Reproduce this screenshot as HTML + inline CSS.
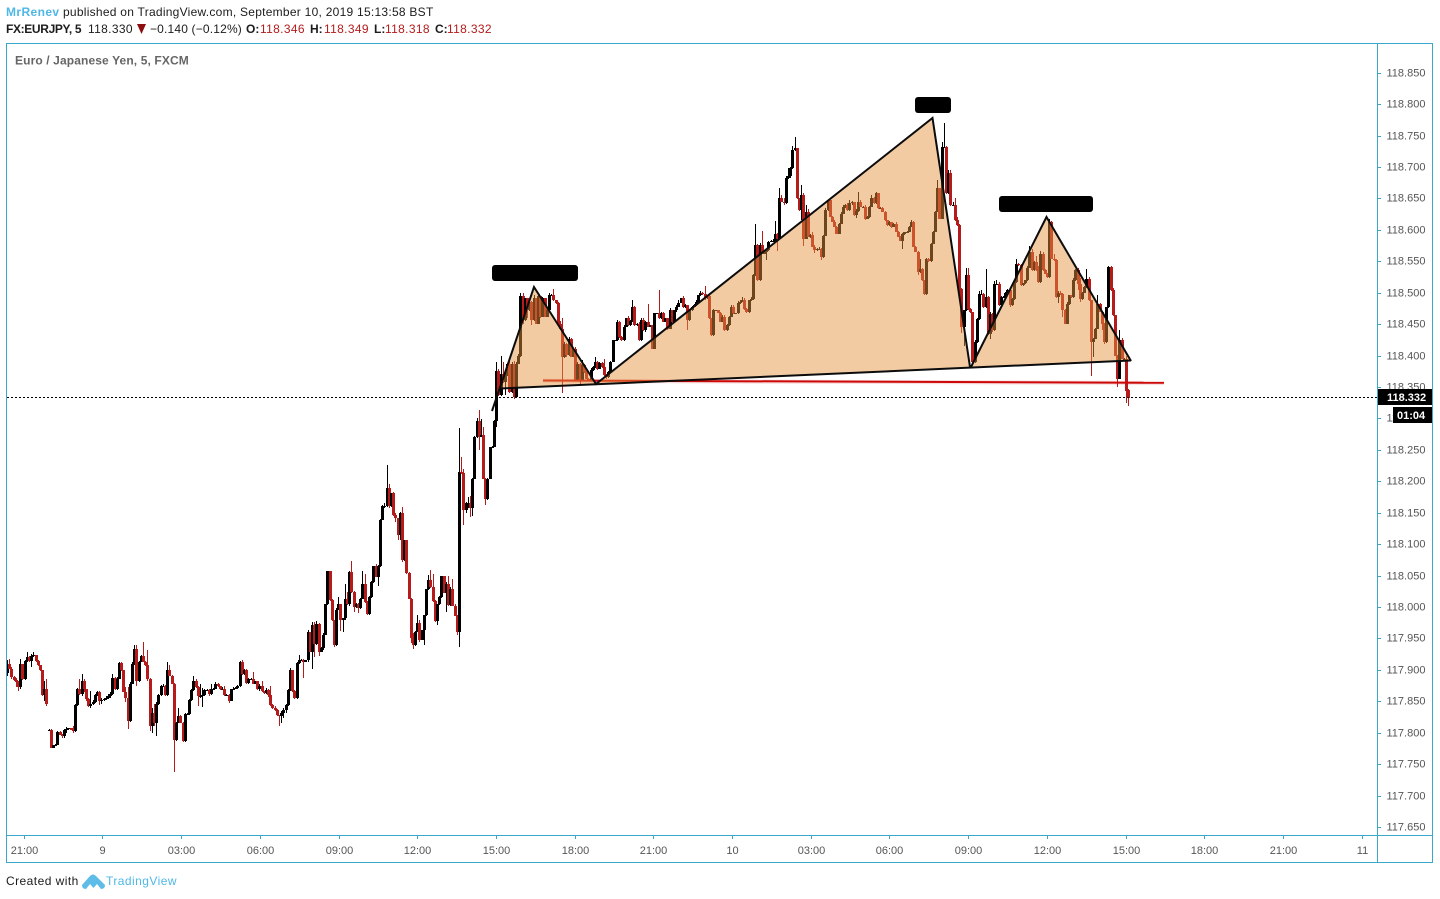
<!DOCTYPE html>
<html lang="en">
<head>
<meta charset="utf-8">
<title>EURJPY 5 chart</title>
<style>
html,body{margin:0;padding:0;background:#fff;width:1440px;height:899px;overflow:hidden;}
body{position:relative;font-family:"Liberation Sans",sans-serif;}
.t{position:absolute;white-space:nowrap;font-size:12px;line-height:14px;color:#1c1c1c;}
.b{font-weight:bold;}
.r{color:#b41c1c;letter-spacing:.35px;}
svg{position:absolute;left:0;top:0;}
</style>
</head>
<body>
<span class="t b" style="left:6px;top:5px;color:#4fb8e6;letter-spacing:.4px">MrRenev</span>
<span class="t" style="left:63px;top:5px;letter-spacing:.26px">published on TradingView.com, September 10, 2019 15:13:58 BST</span>
<span class="t b" style="left:6px;top:22px;letter-spacing:-.35px">FX:EURJPY, 5</span>
<span class="t" style="left:88px;top:22px;letter-spacing:.35px">118.330</span>
<span class="t" style="left:150px;top:22px;letter-spacing:.17px">−0.140 (−0.12%)</span>
<span class="t b" style="left:246px;top:22px">O:</span>
<span class="t r" style="left:260px;top:22px">118.346</span>
<span class="t b" style="left:310px;top:22px">H:</span>
<span class="t r" style="left:324px;top:22px">118.349</span>
<span class="t b" style="left:374px;top:22px">L:</span>
<span class="t r" style="left:385px;top:22px">118.318</span>
<span class="t b" style="left:435px;top:22px">C:</span>
<span class="t r" style="left:447px;top:22px">118.332</span>
<span class="t" style="left:6px;top:874px;letter-spacing:.45px">Created with</span>
<span class="t" style="left:106px;top:874px;color:#4fb8e6;letter-spacing:.45px">TradingView</span>

<svg id="chart" width="1440" height="899" viewBox="0 0 1440 899" font-family="'Liberation Sans',sans-serif">
  <polygon points="137,24 146,24 141.5,34" fill="#8e0f0f"/>
  <path d="M82 885 L90 876 Q93 873 96 876 L105 885 Q105 889 101 889 L97 884 L93.500 888 L90 884 L86 889 Q82 889 82 885 Z" fill="#5dbde8"/>
  <text x="15" y="64.500" font-size="12" font-weight="bold" fill="#666" letter-spacing=".12">Euro / Japanese Yen, 5, FXCM</text>
  <g id="candles"></g>
  <line x1="543" y1="380.800" x2="1164" y2="383" stroke="rgba(204,8,8,.14)" stroke-width="4"/>
  <line x1="543" y1="380.500" x2="1164" y2="382.800" stroke="#cc0808" stroke-width="2"/>
  <polygon points="501,388.500 534,287 596,384" fill="rgba(230,146,62,.48)"/>
  <polygon points="596,384 932.500,118 970,367" fill="rgba(230,146,62,.48)"/>
  <polygon points="971,367 1046.500,217 1131,361" fill="rgba(230,146,62,.48)"/>
  <polyline points="492,411 534,287 596,384 932.500,118 970,367" fill="none" stroke="#0c0c0c" stroke-width="2"/>
  <polyline points="971,367 1046.500,217 1131,361" fill="none" stroke="#0c0c0c" stroke-width="2"/>
  <line x1="500" y1="388.500" x2="1131" y2="360.500" stroke="#0c0c0c" stroke-width="2"/>
  <rect x="492" y="265" width="86" height="16" rx="3" fill="#000"/>
  <rect x="915" y="97" width="36" height="16" rx="3" fill="#000"/>
  <rect x="999" y="196" width="94" height="16" rx="3" fill="#000"/>
  <line x1="7" y1="397.500" x2="1377" y2="397.500" stroke="#000" stroke-width="1" stroke-dasharray="2 2"/>
  <g id="y-axis"></g>
  <g id="x-axis"></g>
  <rect x="1377.500" y="389" width="55.500" height="16" fill="#000"/>
  <text x="1387" y="401" font-size="11" font-weight="bold" fill="#fff">118.332</text>
  <rect x="1393" y="407" width="40" height="16" fill="#000"/>
  <text x="1397" y="419" font-size="11" font-weight="bold" fill="#fff">01:04</text>
  <g fill="none" stroke="#3aa8c9" stroke-width="1">
    <rect x="6.500" y="43.500" width="1426" height="819"/>
    <line x1="1377.500" y1="43.500" x2="1377.500" y2="862.500"/>
    <line x1="6.500" y1="835.500" x2="1432.500" y2="835.500"/>
  </g>
</svg>

<script>
const closes = [
117.910,117.902,117.889,117.884,117.881,117.873,117.909,117.885,117.914,117.921,
117.914,117.922,117.923,117.914,117.907,117.899,117.860,117.870,117.846,117.805,
117.776,117.780,117.781,117.801,117.797,117.795,117.804,117.806,117.807,117.805,
117.802,117.844,117.870,117.861,117.882,117.869,117.854,117.842,117.846,117.849,
117.860,117.865,117.850,117.852,117.853,117.855,117.858,117.862,117.887,117.869,
117.886,117.911,117.899,117.865,117.855,117.819,117.878,117.910,117.933,117.883,
117.913,117.922,117.913,117.907,117.886,117.810,117.832,117.815,117.846,117.860,
117.874,117.875,117.860,117.900,117.891,117.878,117.788,117.816,117.827,117.816,
117.787,117.830,117.830,117.852,117.868,117.883,117.873,117.858,117.858,117.860,
117.868,117.868,117.861,117.870,117.870,117.878,117.874,117.869,117.870,117.860,
117.860,117.851,117.869,117.870,117.871,117.874,117.913,117.893,117.900,117.879,
117.886,117.886,117.878,117.882,117.869,117.875,117.866,117.863,117.868,117.860,
117.844,117.840,117.836,117.828,117.827,117.831,117.836,117.844,117.868,117.899,
117.866,117.855,117.911,117.916,117.916,117.913,117.915,117.960,117.929,117.971,
117.941,117.973,117.929,117.935,117.956,118.004,118.057,118.011,117.979,117.939,
117.996,118.004,117.979,117.982,118.012,118.004,118.056,118.024,118.000,118.005,
117.999,118.013,118.037,118.008,117.989,118.016,118.040,118.065,118.048,118.066,
118.139,118.160,118.160,118.190,118.161,118.181,118.146,118.141,118.114,118.149,
118.074,118.106,118.054,118.013,117.950,117.939,117.961,117.975,117.948,117.963,
117.987,118.028,118.043,118.032,118.010,117.978,118.004,118.016,118.049,118.023,
118.037,118.003,118.029,118.002,117.986,117.960,118.214,118.213,118.154,118.166,
118.166,118.157,118.204,118.271,118.296,118.271,118.274,118.204,118.172,118.204,
118.254,118.255,118.296,118.376,118.337,118.371,118.358,118.369,118.387,118.342,
118.387,118.334,118.387,118.400,118.494,118.456,118.491,118.472,118.486,118.456,
118.491,118.451,118.494,118.462,118.491,118.462,118.472,118.496,118.496,118.488,
118.483,118.451,118.443,118.397,118.419,118.401,118.427,118.398,118.411,118.361,
118.387,118.361,118.385,118.374,118.363,118.361,118.377,118.382,118.390,118.379,
118.388,118.382,118.369,118.366,118.374,118.390,118.424,118.424,118.454,118.430,
118.424,118.446,118.459,118.448,118.455,118.478,118.448,118.451,118.424,118.456,
118.440,118.454,118.446,118.448,118.411,118.467,118.467,118.459,118.468,118.454,
118.459,118.443,118.472,118.454,118.472,118.478,118.484,118.491,118.478,118.480,
118.456,118.472,118.478,118.480,118.486,118.496,118.500,118.498,118.491,118.494,
118.459,118.432,118.472,118.472,118.468,118.454,118.462,118.440,118.448,118.462,
118.478,118.467,118.467,118.483,118.486,118.488,118.474,118.469,118.488,118.490,
118.528,118.576,118.520,118.576,118.562,118.565,118.568,118.581,118.583,118.583,
118.594,118.586,118.650,118.645,118.642,118.682,118.685,118.698,118.727,118.730,
118.650,118.631,118.655,118.586,118.629,118.589,118.592,118.573,118.568,118.570,
118.570,118.557,118.591,118.631,118.647,118.621,118.613,118.605,118.594,118.610,
118.626,118.637,118.640,118.631,118.642,118.644,118.623,118.630,118.645,118.637,
118.637,118.618,118.620,118.637,118.650,118.642,118.658,118.634,118.635,118.629,
118.615,118.607,118.612,118.605,118.610,118.597,118.589,118.583,118.594,118.596,
118.597,118.605,118.613,118.573,118.565,118.533,118.538,118.520,118.498,118.554,
118.550,118.578,118.597,118.629,118.666,118.618,118.732,118.732,118.658,118.690,
118.639,118.640,118.615,118.607,118.506,118.445,118.472,118.528,118.474,118.469,
118.389,118.421,118.458,118.498,118.498,118.477,118.493,118.435,118.466,118.440,
118.514,118.514,118.480,118.493,118.493,118.500,118.505,118.480,118.490,118.517,
118.546,118.544,118.512,118.515,118.520,118.540,118.565,118.536,118.549,118.536,
118.517,118.562,118.536,118.530,118.525,118.613,118.554,118.552,118.493,118.500,
118.498,118.472,118.451,118.482,118.496,118.493,118.520,118.536,118.514,118.490,
118.500,118.509,118.522,118.488,118.421,118.427,118.443,118.482,118.470,118.451,
118.421,118.477,118.541,118.504,118.464,118.400,118.363,118.424,118.395,118.395,
118.344,118.332];
const upperWicks = [
6,7,2,1,3,1,8,1,2,8, 1,4,5,1,1,1,1,12,16,1, 1,1,1,1,1,1,2,3,1,1, 5,1,1,15,12,4,1,1,20,3,
2,2,1,3,2,3,3,3,7,1, 3,1,1,1,8,18,2,3,7,6, 1,2,22,1,24,1,8,13,3,2, 2,2,1,12,8,1,1,1,12,1,
1,1,1,1,2,8,3,1,20,11, 1,1,2,8,1,3,1,1,3,4, 1,1,1,2,1,2,1,2,1,1, 1,1,10,1,1,2,8,1,3,2,
15,1,2,1,1,3,4,2,1,4, 1,2,1,7,2,1,1,3,1,5, 5,4,1,1,2,1,1,1,1,1, 2,12,1,1,25,12,1,17,1,2,
1,2,20,16,1,1,1,1,3,1, 1,3,5,36,6,1,2,3,1,2, 10,1,1,1,1,8,1,13,5,1, 1,1,8,16,21,1,1,1,1,1,
2,12,3,16,2,1,70,25,7,1, 9,10,1,1,4,17,25,13,1,1, 1,1,1,14,3,28,18,4,1,5, 2,5,3,2,5,6,1,1,2,1,
5,1,4,1,2,1,3,3,2,10, 1,2,4,16,3,1,3,1,1,3, 2,1,8,1,1,1,3,2,7,1, 1,1,12,1,1,1,1,1,3,1,
1,3,1,4,1,11,1,1,2,3, 4,1,28,1,1,1,1,37,1,1, 1,1,3,1,1,2,4,1,4,2, 1,1,1,2,2,1,2,1,12,2,
2,1,2,1,1,2,3,3,2,1, 2,3,1,4,2,5,4,1,1,3, 2,33,1,3,22,1,1,1,1,2, 20,1,16,5,5,4,13,2,6,17,
1,1,17,3,11,4,1,5,3,1, 3,1,1,3,1,1,1,2,1,1, 2,2,1,2,5,2,1,3,15,3, 1,2,2,1,5,3,3,1,2,1,
1,1,2,1,1,2,1,1,1,1, 1,1,2,1,1,1,16,1,1,2, 2,1,1,1,13,1,8,38,1,5, 6,4,10,6,2,1,1,11,11,1,
1,3,1,5,6,1,45,2,4,2, 4,7,3,2,2,1,1,3,1,4, 7,1,2,1,1,3,10,5,2,10, 6,4,2,2,1,5,1,8,1,2,
2,1,2,3,1,1,3,2,3,10, 1,1,16,3,1,1,1,14,2,1, 1,1,1,2,4,1,1,16,4,1, 4,1];
const lowerWicks = [
5,1,3,2,8,7,3,1,1,1, 1,10,1,1,1,1,1,10,3,1, 1,1,1,1,1,3,4,4,1,1, 2,1,1,1,2,4,3,1,3,2,
1,2,6,5,1,1,2,2,2,1, 1,1,1,1,6,13,2,1,2,8, 3,1,1,1,3,8,10,5,20,2, 1,1,1,1,1,1,50,1,1,1,
2,1,2,1,2,1,2,16,3,17, 2,2,2,1,1,1,2,1,1,1, 1,3,1,1,1,1,1,1,1,2, 1,1,1,1,1,2,1,1,1,3,
1,2,2,1,17,11,8,4,1,1, 2,1,1,1,2,26,1,3,1,27, 21,1,7,1,3,1,1,1,1,2, 1,1,17,18,2,1,2,2,8,2,
9,2,1,2,1,1,1,2,1,14, 2,1,2,1,3,2,2,5,8,8, 2,1,2,1,7,6,1,1,4,1, 24,1,1,2,2,2,7,1,1,1,
31,1,1,1,1,4,24,1,24,5, 8,14,12,1,2,21,1,1,9,2, 1,1,1,9,1,1,1,21,1,2, 1,3,1,1,2,5,1,12,1,7,
1,1,1,2,1,1,1,1,2,1, 1,2,1,57,1,3,1,1,1,1, 1,6,1,1,1,1,1,1,1,2, 1,1,1,3,1,1,1,1,1,2,
1,1,1,1,1,1,1,1,1,1, 1,2,1,1,1,1,1,1,1,1, 1,2,1,1,1,2,1,1,2,2, 16,1,1,1,1,1,1,1,2,1,
1,1,1,1,1,1,1,1,1,1, 1,1,1,1,1,1,1,1,1,1, 1,1,1,1,1,1,13,1,1,1, 1,19,1,1,3,1,1,2,1,1,
1,1,16,12,1,1,2,1,5,1, 1,5,1,1,1,1,1,1,1,1, 1,1,3,1,1,3,1,4,1,1, 1,3,1,1,1,1,1,1,1,1,
1,1,1,2,1,1,1,1,13,2, 1,1,1,1,1,5,1,1,2,1, 1,1,1,1,1,1,1,1,1,1, 1,1,1,1,6,9,29,1,1,1,
4,1,1,1,1,1,1,2,8,3, 1,1,1,1,1,1,1,2,1,1, 1,1,1,1,1,1,1,1,1,1, 1,1,1,1,1,1,1,1,1,9,
1,10,1,1,1,1,1,1,10,4, 1,1,1,1,53,24,1,1,1,10, 2,1,1,1,1,1,13,1,1,1, 20,12];
const gapBars = [0, 19, 511];
const gapOpens = [117.895, 117.805, 118.346];
const priceTicks = [118.85,118.80,118.75,118.70,118.65,118.60,118.55,118.50,118.45,118.40,118.35,118.30,118.25,118.20,118.15,118.10,118.05,118.00,117.95,117.90,117.85,117.80,117.75,117.70,117.65];
const timeLabels = ["21:00","9","03:00","06:00","09:00","12:00","15:00","18:00","21:00","10","03:00","06:00","09:00","12:00","15:00","18:00","21:00","11"];

const NS = "http://www.w3.org/2000/svg";
function xBar(i){ return 7 + i * 2.194; }
function xTime(i){ return 23.7 + i * 78.7; }
function yPrice(p){ return 72.7 + (118.85 - p) * 628.6; }
function make(tag, attrs, parent){
  const el = document.createElementNS(NS, tag);
  for (const k in attrs) el.setAttribute(k, attrs[k]);
  parent.appendChild(el);
  return el;
}

const candleLayer = document.getElementById("candles");
closes.forEach(function(close, i){
  const gap = gapBars.indexOf(i);
  const open = gap >= 0 ? gapOpens[gap] : closes[i - 1];
  const up = close >= open;
  const color = up ? "#000000" : "#b51b1b";
  const top = Math.max(open, close);
  const bottom = Math.min(open, close);
  const cx = Math.round(xBar(i));
  const yTop = Math.round(yPrice(top));
  const yBottom = Math.round(yPrice(bottom));
  const yHigh = Math.round(yPrice(top + upperWicks[i] / 1000));
  const yLow = Math.round(yPrice(bottom - lowerWicks[i] / 1000));
  const wick = make("rect", {x: cx, y: yHigh, width: 1, height: Math.max(1, yLow - yHigh), fill: color, "shape-rendering": "crispEdges"}, candleLayer);
  
  
  const body = make("rect", {x: cx - 1, y: yTop, width: 3, height: Math.max(1, yBottom - yTop), fill: color, "shape-rendering": "crispEdges"}, candleLayer);
  
  
});

const yAxis = document.getElementById("y-axis");
priceTicks.forEach(function(p){
  const y = Math.round(yPrice(p)) + 0.5;
  const tick = make("line", {x1: 1377, x2: 1381, y1: y, y2: y, stroke: "#3aa8c9"}, yAxis);
  
  
  const label = make("text", {x: 1386.5, y: y + 3, "font-size": 11, fill: "#555"}, yAxis);
  
  
  label.textContent = p.toFixed(3);
});

const xAxis = document.getElementById("x-axis");
timeLabels.forEach(function(t, i){
  const x = Math.round(xTime(i)) + 0.5;
  const tick = make("line", {x1: x, x2: x, y1: 835, y2: 839, stroke: "#3aa8c9"}, xAxis);
  
  
  const label = make("text", {x: x, y: 854, "font-size": 11, fill: "#555", "text-anchor": "middle"}, xAxis);
  
  
  label.textContent = t;
});
</script>
</body>
</html>
